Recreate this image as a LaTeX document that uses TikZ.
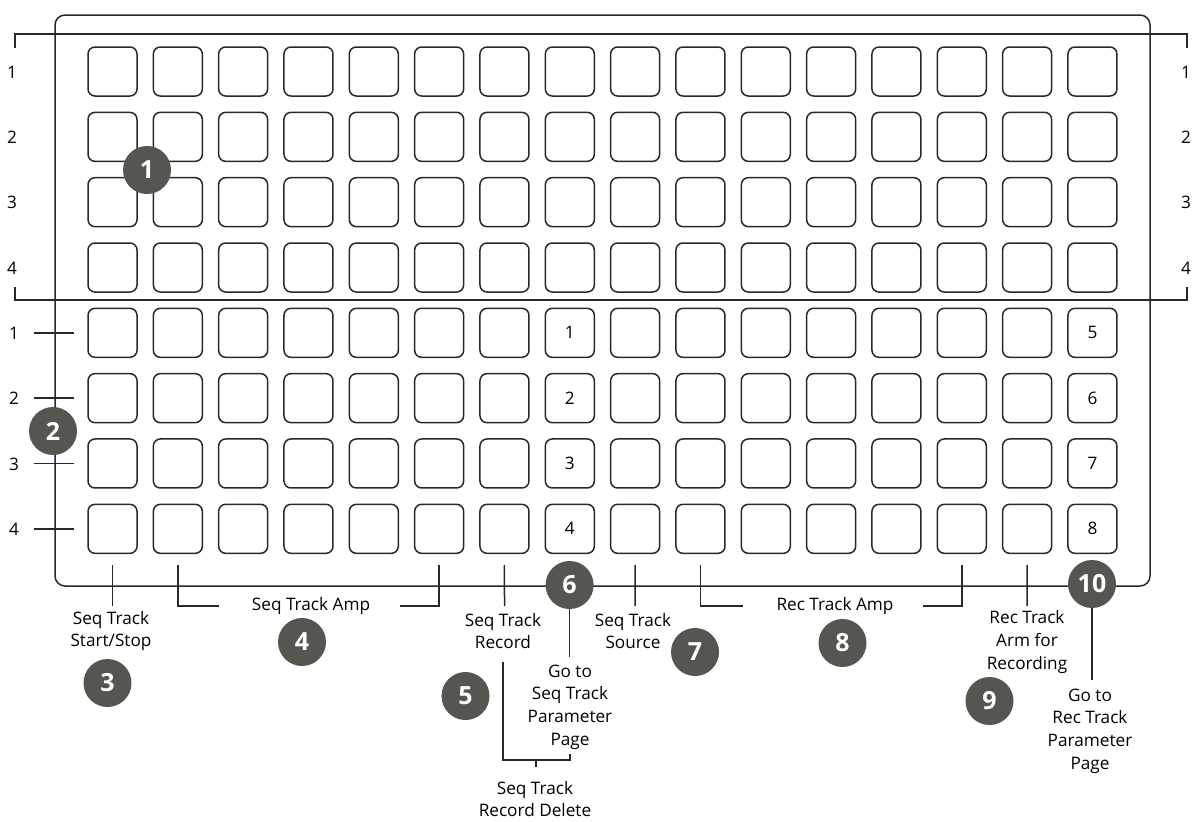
\documentclass[tikz,border=0pt]{standalone}
\usepackage{fontspec}
\setmainfont{Open Sans}
\usetikzlibrary{calc,positioning}
\definecolor{badgegray}{RGB}{84,86,80}
\definecolor{inkgray}{RGB}{40,40,40}
\tikzset{
  pad/.style={draw=inkgray, line width=0.75pt, rounded corners=3.5pt, minimum size=24.5pt, inner sep=0pt},
  frame/.style={draw=inkgray, line width=0.75pt, rounded corners=5pt},
  leader/.style={draw=inkgray, line width=0.75pt},
  badge/.style={circle, fill=badgegray, text=white, minimum size=24pt, inner sep=0pt, font=\fontsize{12.5}{14}\selectfont\bfseries},
  caption/.style={align=center, inner sep=0pt, text=black, font=\fontsize{8.6}{11.3}\selectfont},
  rowlbl/.style={inner sep=0pt, text=black, font=\fontsize{8.6}{10}\selectfont}
}

\begin{document}
\begin{tikzpicture}[x=0.5pt,y=-0.5pt]
  \useasboundingbox (0,0) rectangle (1200,821);
  % housing
  \draw[frame] (55,15) rectangle (1150,586);

  % 16 x 8 pads
  \foreach \c in {1,...,16}
    \foreach \r in {1,...,8}
      \node[pad] (p-\c-\r) at ({112.5+65.33*(\c-1)},{71.5+65.33*(\r-1)}) {};
  \foreach \r/\a/\b in {5/1/5,6/2/6,7/3/7,8/4/8} {
    \node[rowlbl] (n-8-\r) at (p-8-\r) {\a};
    \node[rowlbl] (n-16-\r) at (p-16-\r) {\b};
  }

  % upper block bracket and row numbers
  \coordinate (top-l) at (15,48);
  \coordinate (top-r) at (1187,48);
  \coordinate (bot-l) at (15,287);
  \coordinate (bot-r) at (1187,287);
  \draw[leader] (top-l) -- ++(0,-14) -| (top-r);
  \draw[leader] (bot-l) -- ++(0,13) -| (bot-r);
  \foreach \r in {1,...,4} {
    \node[rowlbl] (lu-\r) at (12,{72+65.33*(\r-1)}) {\r};
    \node[rowlbl] (ru-\r) at (1186,{72+65.33*(\r-1)}) {\r};
  }

  % lower block row numbers
  \foreach \r in {1,...,4} {
    \node[rowlbl] (ll-\r) at (14,{72+65.33*(\r+3)}) {\r};
    \pgfmathtruncatemacro\rr{\r+4}
    \draw[leader] ($(ll-\r.center)+(20,-0.5)$) -- ($(p-1-\rr.west)+(-13,0)$);
  }

  % seq track start/stop
  \coordinate (k3) at (112.5,606);
  \draw[leader] ($(p-1-8.south)+(0,11)$) -- (k3);
  \node[caption] (c3) at (111,631) {Seq Track\\Start/Stop};

  % seq track amp
  \node[caption] (c4) at (311,606) {Seq Track Amp};
  \coordinate (k4l) at (219,606);
  \coordinate (k4r) at (400,606);
  \draw[leader] ($(p-2-8.south)+(0,11)$) |- (k4l);
  \draw[leader] ($(p-6-8.south)+(0,11)$) |- (k4r);

  % seq track record / record delete
  \coordinate (k5) at (504.5,606);
  \draw[leader] ($(p-7-8.south)+(0,11)$) -- (k5);
  \node[caption] (c5) at (503,631) {Seq Track\\Record};
  \coordinate (k5a) at (503,662);
  \coordinate (k5b) at (570,754);
  \coordinate (k5c) at (536,760);
  \coordinate (k5d) at (536,767);
  \draw[leader] (k5a) |- (k5c) -| (k5b);
  \draw[leader] (k5c) -- (k5d);
  \node[caption] (c5d) at (535,799) {Seq Track\\Record Delete};

  % go to seq track parameter page
  \node[caption] (c6) at (570,707) {Go to\\Seq Track\\Parameter\\Page};
  \coordinate (k6) at (569.6,657);

  % seq track source
  \coordinate (k7) at (635.2,606);
  \draw[leader] ($(p-9-8.south)+(0,11)$) -- (k7);
  \node[caption] (c7) at (633,631) {Seq Track\\Source};

  % rec track amp
  \node[caption] (c8) at (835,606) {Rec Track Amp};
  \coordinate (k8l) at (743,606);
  \coordinate (k8r) at (923,606);
  \draw[leader] ($(p-10-8.south)+(0,11)$) |- (k8l);
  \draw[leader] ($(p-14-8.south)+(0,11)$) |- (k8r);

  % rec track arm
  \coordinate (k9) at (1027,606);
  \draw[leader] ($(p-15-8.south)+(0,11)$) -- (k9);
  \node[caption] (c9) at (1027,642) {Rec Track\\Arm for\\Recording};

  % go to rec track parameter page
  \node[caption] (c10) at (1090,731) {Go to\\Rec Track\\Parameter\\Page};
  \coordinate (k10) at (1092,680);

  % callout badges
  \node[badge] (b1) at (147,170) {1};
  \node[badge] (b2) at (53,431) {2};
  \node[badge] (b3) at (107.5,683) {3};
  \node[badge] (b4) at (302,642) {4};
  \node[badge] (b5) at (465.5,696) {5};
  \node[badge] (b6) at (569.6,585) {6};
  \node[badge] (b7) at (695,652) {7};
  \node[badge] (b8) at (842.5,643) {8};
  \node[badge] (b9) at (989.5,701) {9};
  \node[badge] (b10) at (1092,584) {10};
  \draw[leader] (b6.south) -- (k6);
  \draw[leader] (b10.south) -- (k10);
\end{tikzpicture}
\end{document}
